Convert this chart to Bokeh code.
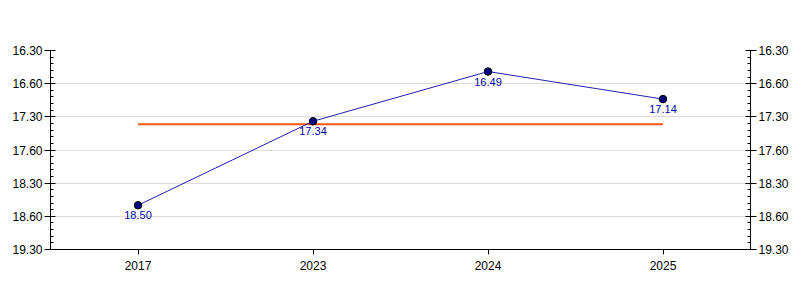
from bokeh.plotting import figure
from bokeh.models import Range1d, FixedTicker, LinearAxis, ColumnDataSource
from bokeh.embed import file_html
from bokeh.resources import INLINE
from bokeh.core.properties import value

years = ["2017", "2023", "2024", "2025"]
# times in minutes (labels are m.ss)
times = [18.833, 17.567, 16.817, 17.233]
time_labels = ["18.50", "17.34", "16.49", "17.14"]
mean_time = 17.61
tick_values = [16.5, 17.0, 17.5, 18.0, 18.5, 19.0, 19.5]
tick_labels = ["16.30", "16.60", "17.30", "17.60", "18.30", "18.60", "19.30"]
minor_values = [16.5 + 0.1 * i for i in range(31)]

FONT = "Liberation Sans"

p = figure(width=800, height=300, x_range=years, y_range=Range1d(19.5, 16.5),
           output_backend="svg", toolbar_location=None,
           min_border_left=50, min_border_right=50, min_border_top=50, min_border_bottom=51)
p.outline_line_color = None
p.background_fill_color = "white"
p.border_fill_color = "white"
p.xgrid.grid_line_color = None
p.ygrid.grid_line_color = "#dddddd"

ticker = FixedTicker(ticks=tick_values, minor_ticks=minor_values)
p.yaxis.ticker = ticker
overrides = {float(v): l for v, l in zip(tick_values, tick_labels)}

def style_y(ax):
    ax.ticker = ticker
    ax.major_label_overrides = overrides
    ax.major_tick_in = 5
    ax.major_tick_out = 6
    ax.minor_tick_in = 3
    ax.minor_tick_out = 0
    ax.axis_line_color = "black"
    ax.major_tick_line_color = "black"
    ax.minor_tick_line_color = "black"
    ax.major_label_text_font = FONT
    ax.major_label_text_font_size = "12px"
    ax.major_label_text_color = "black"
    ax.major_label_standoff = 2

style_y(p.yaxis[0])
right = LinearAxis()
style_y(right)
p.add_layout(right, "right")

xa = p.xaxis[0]
xa.major_tick_in = 0
xa.major_tick_out = 5
xa.minor_tick_line_color = None
xa.major_label_text_font = FONT
xa.major_label_text_font_size = "12px"
xa.major_label_text_color = "black"
xa.major_label_standoff = 6
xa.axis_line_color = "black"

src = ColumnDataSource(dict(x=years, y=times, label=time_labels))

p.line(x=[years[0], years[-1]], y=[mean_time, mean_time], line_color="#ff5511", line_width=2)
p.line(x="x", y="y", source=src, line_color="#2020b0", line_width=1)
p.scatter(x="x", y="y", source=src, size=7.5, fill_color="#000080", line_color="black", line_width=1)
p.text(x="x", y="y", text="label", source=src, text_align="center", text_baseline="top",
       y_offset=6, text_font=value(FONT), text_font_size="11px", text_color="#0000a0")

open("out.html", "w").write(file_html(p, INLINE))
